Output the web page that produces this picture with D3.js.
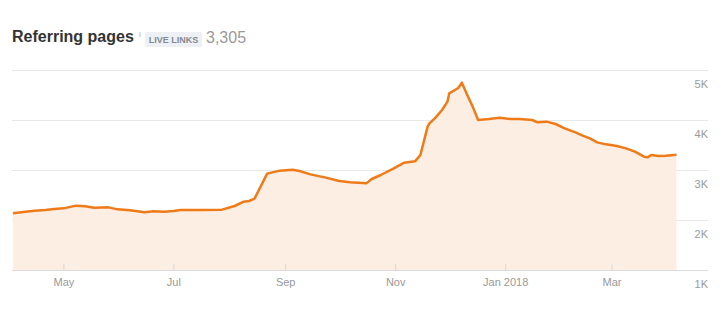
<!DOCTYPE html>
<html>
<head>
<meta charset="utf-8">
<script src="https://cdn.jsdelivr.net/npm/d3@7"></script>
<style>
  body { margin: 0; background: #fff; }
  svg { display: block; font-family: "Liberation Sans", Arial, sans-serif; }
</style>
</head>
<body>
<svg id="chart"></svg>
<script>
const width = 721
const height = 310

// referring pages over time
const dates = [
  "2017-04-03","2017-04-10","2017-04-15","2017-04-21","2017-04-26","2017-05-01","2017-05-08","2017-05-13",
  "2017-05-18","2017-05-26","2017-05-31","2017-06-07","2017-06-15","2017-06-20","2017-06-26","2017-07-01",
  "2017-07-05","2017-07-16","2017-07-28","2017-08-04","2017-08-09","2017-08-12","2017-08-15","2017-08-22",
  "2017-08-29","2017-09-05","2017-09-09","2017-09-15","2017-09-23","2017-10-01","2017-10-07","2017-10-16",
  "2017-10-19","2017-10-24","2017-10-31","2017-11-06","2017-11-12","2017-11-15","2017-11-19","2017-11-20",
  "2017-11-23","2017-11-27","2017-11-30","2017-12-01","2017-12-06","2017-12-08","2017-12-11","2017-12-14",
  "2017-12-17","2017-12-23","2017-12-29","2018-01-04","2018-01-09","2018-01-16","2018-01-19","2018-01-24",
  "2018-01-29","2018-02-03","2018-02-09","2018-02-13","2018-02-17","2018-02-21","2018-02-26","2018-03-04",
  "2018-03-09","2018-03-14","2018-03-19","2018-03-21","2018-03-23","2018-03-27","2018-03-31","2018-04-06"
]
const pages = [
  2133, 2167, 2187, 2200, 2220, 2233, 2287, 2273,
  2247, 2253, 2213, 2193, 2153, 2173, 2167, 2180,
  2200, 2200, 2207, 2280, 2367, 2380, 2427, 2927,
  2987, 3007, 2980, 2913, 2853, 2780, 2753, 2733,
  2820, 2900, 3027, 3147, 3173, 3300, 3867, 3933,
  4033, 4200, 4367, 4533, 4640, 4747, 4500, 4267,
  4000, 4020, 4047, 4020, 4020, 4000, 3953, 3967,
  3920, 3833, 3753, 3687, 3633, 3553, 3513, 3480,
  3433, 3367, 3267, 3253, 3300, 3280, 3287, 3305
]

const xTicks = ["2017-05-01","2017-07-01","2017-09-01","2017-11-01","2018-01-01","2018-03-01"]
const xTickLabels = ["May","Jul","Sep","Nov","Jan 2018","Mar"]
const yTicks = [1000, 2000, 3000, 4000, 5000]

const parse = d3.timeParse("%Y-%m-%d")
const data = dates.map((d, i) => ({ date: parse(d), value: pages[i] }))

const svg = d3.select("#chart")
            .attr("width", width)
            .attr("height", height)

// title row
const title = svg.append("g")
title.append("text")
     .attr("x", 12).attr("y", 42)
     .attr("font-size", 16).attr("font-weight", "bold")
     .attr("fill", "#333")
     .text("Referring pages")
title.append("text")
     .attr("x", 139).attr("y", 37)
     .attr("font-size", 8).attr("fill", "#aaa")
     .text("i")
title.append("rect")
     .attr("x", 145).attr("y", 32)
     .attr("width", 57).attr("height", 15)
     .attr("rx", 2)
     .attr("fill", "#edf0f4")
title.append("text")
     .attr("x", 173.5).attr("y", 43)
     .attr("text-anchor", "middle")
     .attr("font-size", 9).attr("font-weight", "bold")
     .attr("fill", "#858a92")
     .text("LIVE LINKS")
title.append("text")
     .attr("x", 206).attr("y", 43)
     .attr("font-size", 16).attr("fill", "#9a9a9a")
     .text("3,305")

const x = d3.scaleTime()
            .domain([new Date(2017, 3, 2, 12), new Date(2018, 3, 23, 12)])
            .range([12, 708])

const y = d3.scaleLinear()
            .domain([1000, 5000])
            .range([270, 70])

// horizontal grid + right labels
const yAxis = svg.append("g")
   .attr("transform", "translate(12,0)")
   .call(d3.axisRight(y).tickValues(yTicks).tickSize(696).tickFormat(d => (d / 1000) + "K"))
yAxis.select(".domain").remove()
yAxis.selectAll("line").attr("stroke", d => d === 1000 ? "#dcdcdc" : "#e8e8e8")
yAxis.selectAll("text")
     .attr("x", 696).attr("dy", 0).attr("y", 17)
     .attr("text-anchor", "end")
     .attr("font-size", 11)
     .attr("font-family", "Liberation Sans, Arial, sans-serif")
     .attr("fill", "#999")

// area + line
const area = d3.area()
               .x(d => x(d.date))
               .y0(y(1000))
               .y1(d => y(d.value))
const line = d3.line()
               .x(d => x(d.date))
               .y(d => y(d.value))

svg.append("path")
   .datum(data)
   .attr("d", area)
   .attr("fill", "#fdeee3")

svg.append("path")
   .datum(data)
   .attr("d", line)
   .attr("fill", "none")
   .attr("stroke", "#ef7b18")
   .attr("stroke-width", 2.5)
   .attr("stroke-linejoin", "round")

// bottom axis
const xAxis = svg.append("g")
   .attr("transform", "translate(0,270)")
   .call(d3.axisBottom(x)
           .tickValues(xTicks.map(parse))
           .tickSize(-6)
           .tickPadding(8)
           .tickFormat((d, i) => xTickLabels[i]))
xAxis.select(".domain").remove()
xAxis.selectAll("line").attr("stroke", "#d8d8d8")
xAxis.selectAll("text")
     .attr("font-size", 11)
     .attr("font-family", "Liberation Sans, Arial, sans-serif")
     .attr("fill", "#999")
</script>
</body>
</html>
